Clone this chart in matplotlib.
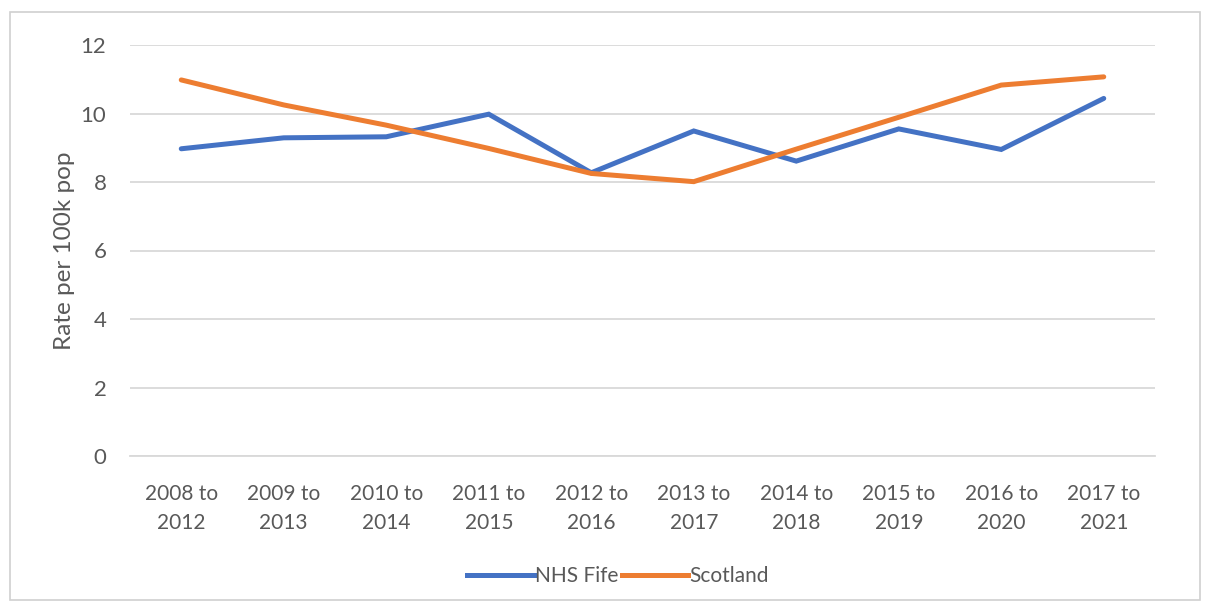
import matplotlib
matplotlib.use("Agg")
import matplotlib.pyplot as plt
from matplotlib.patches import Rectangle
from matplotlib.lines import Line2D

periods = ["2008 to\n2012", "2009 to\n2013", "2010 to\n2014", "2011 to\n2015",
           "2012 to\n2016", "2013 to\n2017", "2014 to\n2018", "2015 to\n2019",
           "2016 to\n2020", "2017 to\n2021"]
nhs_fife = [8.97, 9.29, 9.32, 9.98, 8.27, 9.49, 8.61, 9.55, 8.95, 10.44]
scotland = [10.98, 10.25, 9.66, 8.98, 8.25, 8.01, 8.96, 9.89, 10.83, 11.07]
y_ticks = [0, 2, 4, 6, 8, 10, 12]

BLUE = "#4472C4"
ORANGE = "#ED7D31"
GRID = "#D9D9D9"
TEXT = "#595959"
FS = 15

plt.rcParams["font.family"] = ["Lato", "DejaVu Sans"]

W, H = 1208, 607
fig = plt.figure(figsize=(W / 100, H / 100), dpi=100)
fig.patch.set_facecolor("white")

# chart border
fig.add_artist(Rectangle((10 / W, 1 - 600 / H), (1200 - 10) / W, (600 - 12) / H,
                         transform=fig.transFigure, fill=False,
                         edgecolor="#D0D0D0", linewidth=1.2))

left, right = 130 / W, 1155 / W
top, bottom = 1 - 45 / H, 1 - 456 / H
ax = fig.add_axes([left, bottom, right - left, top - bottom])

x = list(range(len(periods)))
ax.plot(x, nhs_fife, color=BLUE, linewidth=3.6, solid_capstyle="round",
        solid_joinstyle="miter", label="NHS Fife", zorder=3)
ax.plot(x, scotland, color=ORANGE, linewidth=3.6, solid_capstyle="round",
        solid_joinstyle="miter", label="Scotland", zorder=3)

ax.set_xlim(-0.5, len(periods) - 0.5)
ax.set_ylim(0, 12)
ax.set_yticks(y_ticks)
ax.set_yticklabels([str(t) for t in y_ticks])
ax.set_xticks(x)
ax.set_xticklabels(periods, linespacing=1.55)

ax.grid(axis="y", color=GRID, linewidth=1.3)
ax.set_axisbelow(True)
for s in ax.spines.values():
    s.set_visible(False)
ax.spines["bottom"].set_visible(True)
ax.spines["bottom"].set_color(GRID)
ax.spines["bottom"].set_linewidth(1.3)

ax.tick_params(axis="both", length=0, labelcolor=TEXT)
ax.tick_params(axis="x", labelsize=FS, pad=20)
ax.tick_params(axis="y", labelsize=16, pad=17)

ax.set_ylabel("Rate per 100k pop", fontsize=17.5, color=TEXT, labelpad=4)

handles = [Line2D([], [], color=BLUE, linewidth=3.6),
           Line2D([], [], color=ORANGE, linewidth=3.6)]
fig.legend(handles, ["NHS Fife", "Scotland"], loc="center",
           bbox_to_anchor=(618 / W, 1 - 576 / H), ncol=2, frameon=False,
           fontsize=FS, labelcolor=TEXT, handlelength=3.2,
           handletextpad=0.05, columnspacing=0.15)

fig.savefig("out.png", dpi=100, facecolor="white")
